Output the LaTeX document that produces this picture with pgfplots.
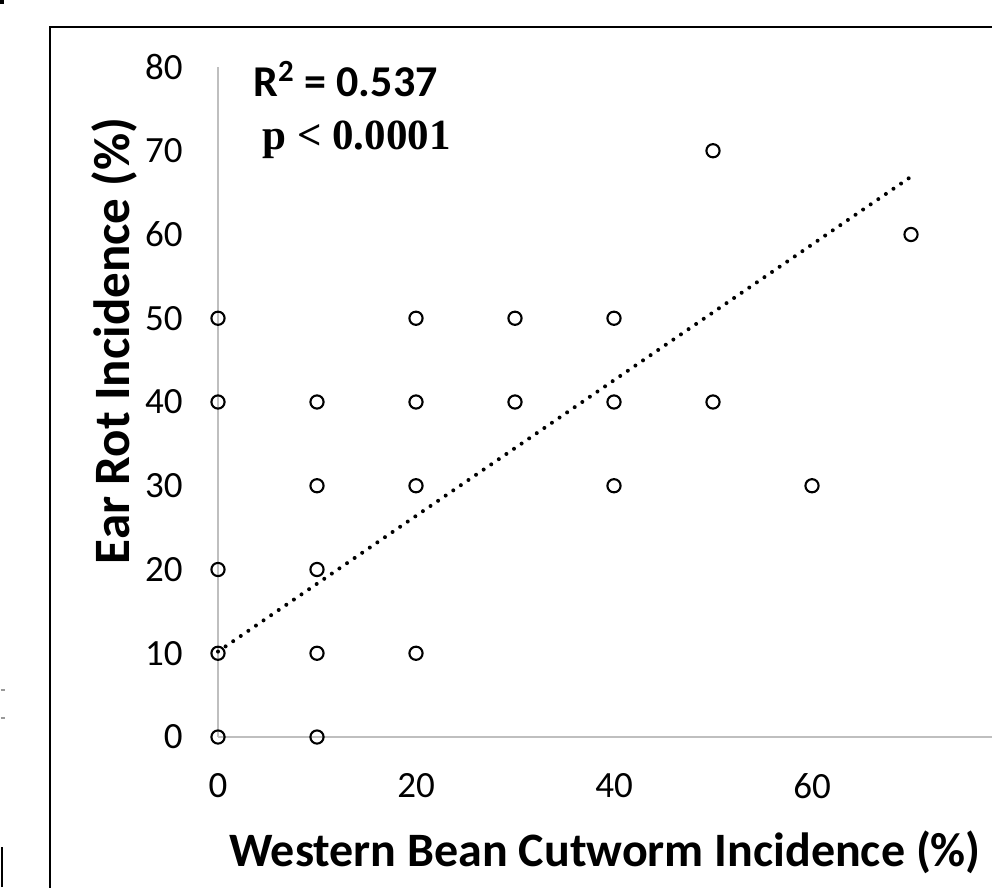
\documentclass[border=0pt]{standalone}
\usepackage{fontspec}
\setmainfont{Carlito}
\newfontfamily\timesfont{Liberation Serif}
\usepackage{pgfplots}
\pgfplotsset{compat=1.18}
\begin{document}
\begin{tikzpicture}
\begin{axis}[
  x=4.95pt, y=4.1875pt,
  xmin=0, xmax=80, ymin=0, ymax=80,
  axis lines=left,
  axis line style={draw=black!25, line width=1pt, -},
  major tick length=0pt,
  xtick={0,20,40,60},
  ytick={0,10,20,30,40,50,60,70,80},
  /pgf/number format/assume math mode=true,
  ticklabel style={font=\fontsize{18.5}{18.5}\selectfont, inner sep=0pt},
  yticklabel style={anchor=east, xshift=-17.5pt},
  xticklabel style={anchor=north, yshift=-18pt},
  clip=false,
]
\addplot[only marks, mark=o, mark size=3.3pt, mark options={line width=1.05pt, black}] coordinates {
(0,0) (0,10) (0,20) (0,40) (0,50)
(10,0) (10,10) (10,20) (10,30) (10,40)
(20,10) (20,30) (20,40) (20,50)
(30,40) (30,50)
(40,30) (40,40) (40,50)
(50,40) (50,70)
(60,30)
(70,60)
};
\addplot[black, line width=2pt, line cap=round, dash pattern=on 0pt off 4.6pt] coordinates {(0,10.2) (70,66.9)};
\node[anchor=base west, inner sep=0pt, font=\fontsize{22}{22}\selectfont\bfseries] at (axis cs:3.54,76.42) {R\textsuperscript{2} = 0.537};
\node[anchor=base west, inner sep=0pt, font=\fontsize{21.5}{21.5}\selectfont\timesfont\bfseries] at (axis cs:4.44,70.09) {p < 0.0001};
\node[anchor=base, inner sep=0pt, font=\fontsize{24}{24}\selectfont\bfseries] at (axis cs:39.09,-15.40) {Western Bean Cutworm Incidence (\%)};
\node[anchor=base, rotate=90, inner sep=0pt, font=\fontsize{25.5}{25.5}\selectfont\bfseries] at (axis cs:-8.89,47.28) {Ear Rot Incidence (\%)};
\coordinate (bl) at (axis cs:-22.02,-17.91);
\coordinate (tr) at (axis cs:78.18,88.0);
\coordinate (fr) at (axis cs:-17.0,84.78);
\coordinate (fr2) at (axis cs:82,-22);
\end{axis}
\draw[black, line width=1pt] (fr2 |- fr) -- (fr) -- (fr |- fr2);
\fill[black] (bl |- tr) rectangle ++(2pt,-2pt);
\draw[black, line width=1pt] ([xshift=1pt]bl) -- ++(0,20pt);
\draw[black!40, line width=0.8pt] ([xshift=0.5pt, yshift=98.5pt]bl) -- ++(2pt,0);
\draw[black!40, line width=0.8pt] ([xshift=0.5pt, yshift=84.5pt]bl) -- ++(2pt,0);
\pgfresetboundingbox
\useasboundingbox (bl) rectangle (tr);
\end{tikzpicture}
\end{document}
